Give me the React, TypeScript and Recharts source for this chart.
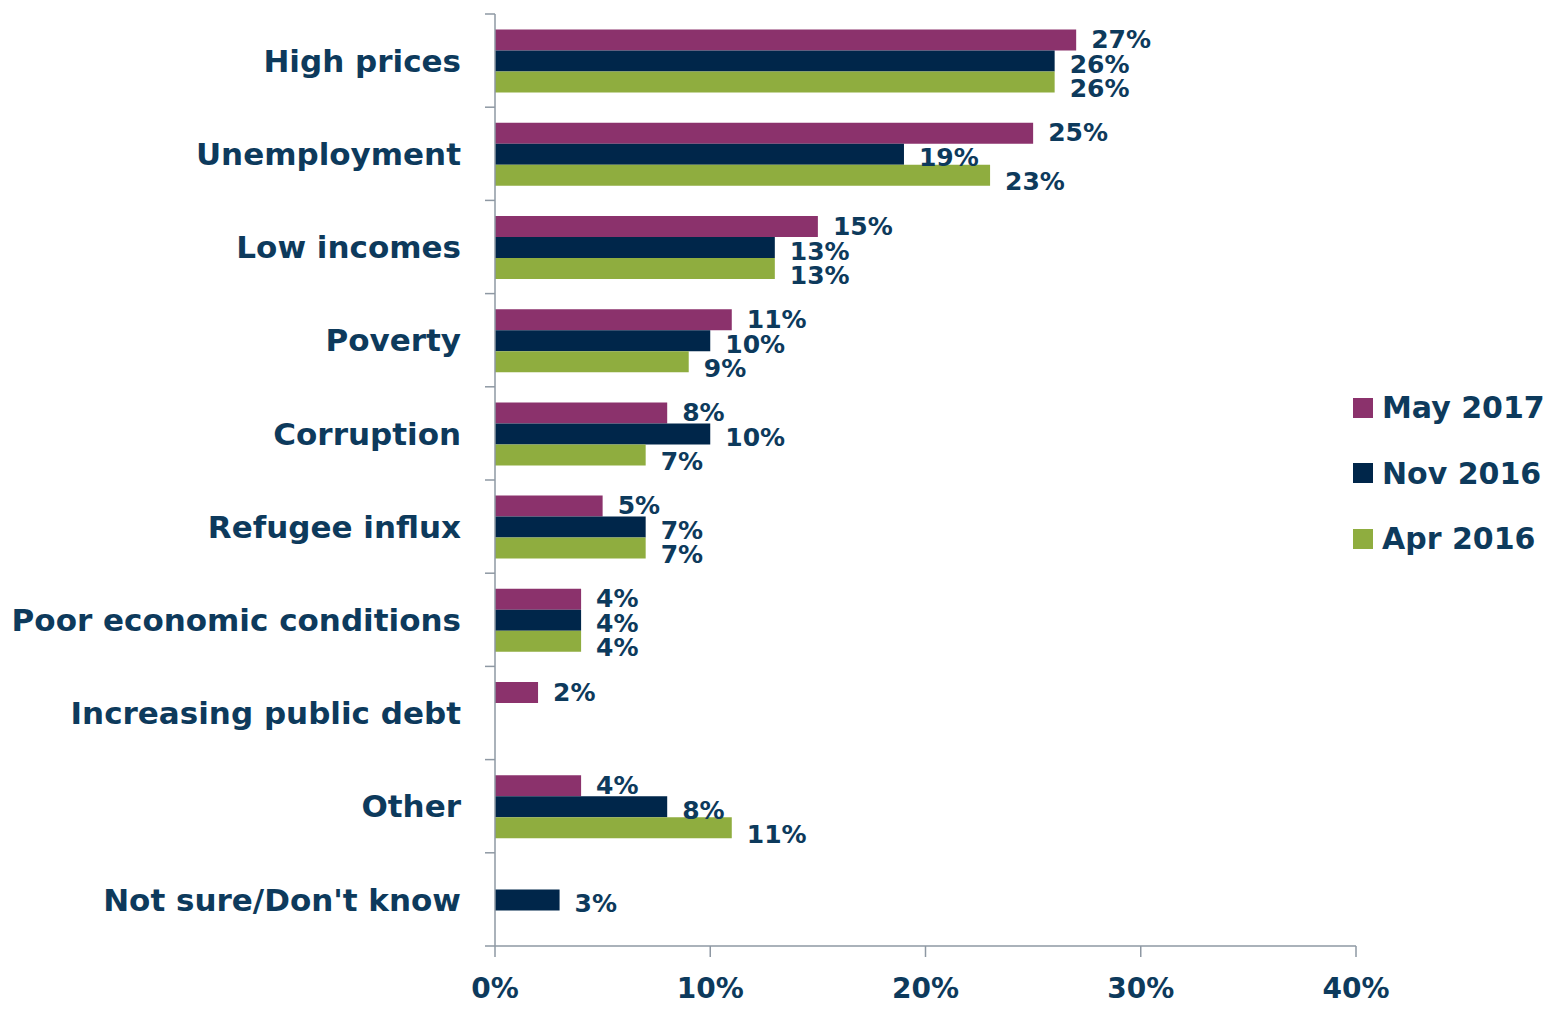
import { BarChart, Bar, XAxis, YAxis, Legend, LabelList } from "recharts";

const categories = [
  "High prices",
  "Unemployment",
  "Low incomes",
  "Poverty",
  "Corruption",
  "Refugee influx",
  "Poor economic conditions",
  "Increasing public debt",
  "Other",
  "Not sure/Don't know",
];
const may2017 = [27, 25, 15, 11, 8, 5, 4, 2, 4, null];
const nov2016 = [26, 19, 13, 10, 10, 7, 4, null, 8, 3];
const apr2016 = [26, 23, 13, 9, 7, 7, 4, null, 11, null];
const xTicks = [0, 10, 20, 30, 40];

const TEXT = "#0d3a5c";
const AXIS = "#8e98a3";
const FONT = "'DejaVu Sans', Verdana, sans-serif";

const SERIES = [
  { key: "may", name: "May 2017", color: "#8b326c", dy: -1 },
  { key: "nov", name: "Nov 2016", color: "#00264a", dy: 3 },
  { key: "apr", name: "Apr 2016", color: "#8fad3f", dy: 6 },
];

const data = categories.map((c, i) => ({
  cat: c,
  may: may2017[i],
  nov: nov2016[i],
  apr: apr2016[i],
}));

const BAND = 93.2;

const CatTick = ({ x, y, payload, index }: any) => {
  const ax = x + 34;
  return (
    <g>
      <text
        x={x}
        y={y}
        dy="0.36em"
        textAnchor="end"
        fill={TEXT}
        fontSize={31}
        fontWeight="bold"
        fontFamily={FONT}
      >
        {payload.value}
      </text>
      <line x1={ax - 10} x2={ax} y1={y - BAND / 2} y2={y - BAND / 2} stroke={AXIS} strokeWidth={1.5} />
      {index === categories.length - 1 && (
        <line x1={ax - 10} x2={ax} y1={y + BAND / 2} y2={y + BAND / 2} stroke={AXIS} strokeWidth={1.5} />
      )}
    </g>
  );
};

const makeLabel = (dy: number) => (props: any) => {
  const { x, y, width, height, value } = props;
  if (value == null) return null;
  return (
    <text
      x={x + width + 15}
      y={y + height / 2 + dy}
      dy="0.36em"
      fill={TEXT}
      fontSize={25}
      fontWeight="bold"
      fontFamily={FONT}
    >
      {value}%
    </text>
  );
};

const LegendBox = () => (
  <div style={{ fontFamily: FONT, color: TEXT, fontSize: 30, fontWeight: "bold" }}>
    {SERIES.map((s) => (
      <div key={s.key} style={{ display: "flex", alignItems: "center", height: 65.5 }}>
        <span style={{ width: 20, height: 20, background: s.color, marginRight: 9, display: "inline-block" }} />
        <span>{s.name}</span>
      </div>
    ))}
  </div>
);

export default function App() {
  document.body.style.margin = "0";
  return (
    <div style={{ width: 1549, height: 1009, background: "#fff", position: "relative" }}>
      <BarChart
        width={1549}
        height={1009}
        data={data}
        layout="vertical"
        margin={{ top: 14, right: 193, bottom: 0, left: 0 }}
        barCategoryGap={15.6}
        barGap={0}
      >
        <XAxis
          type="number"
          domain={[0, 40]}
          ticks={xTicks}
          tickFormatter={(v) => `${v}%`}
          axisLine={{ stroke: AXIS, strokeWidth: 1.5 }}
          tickLine={{ stroke: AXIS, strokeWidth: 1.5 }}
          tickSize={11}
          tickMargin={21}
          tick={{ fill: TEXT, fontSize: 28, fontWeight: "bold", fontFamily: FONT }}
          height={63}
        />
        <YAxis
          type="category"
          dataKey="cat"
          width={495}
          axisLine={{ stroke: AXIS, strokeWidth: 1.5 }}
          tickLine={false}
          tickSize={0}
          tickMargin={34}
          tick={<CatTick />}
          interval={0}
        />
        <Legend
          layout="vertical"
          align="center"
          verticalAlign="middle"
          content={<LegendBox />}
          wrapperStyle={{ left: 1353, top: 375, width: 200 }}
        />
        {SERIES.map((s) => (
          <Bar key={s.key} dataKey={s.key} name={s.name} fill={s.color} isAnimationActive={false}>
            <LabelList dataKey={s.key} content={makeLabel(s.dy)} />
          </Bar>
        ))}
      </BarChart>
    </div>
  );
}
